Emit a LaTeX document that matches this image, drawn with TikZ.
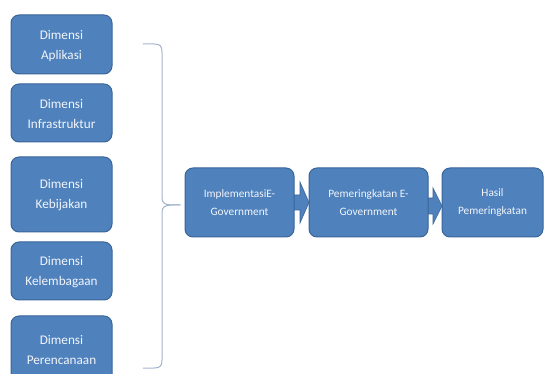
\documentclass[tikz,border=0pt]{standalone}
\usepackage{fontspec}
\setmainfont{Carlito}
\definecolor{boxfill}{HTML}{4F81BD}
\definecolor{boxline}{HTML}{3A6599}
\definecolor{bracecol}{HTML}{A3B3CC}
\definecolor{txt}{HTML}{F2F5FA}
\begin{document}
\begin{tikzpicture}[x=1pt,y=-1pt,
  blk/.style={draw=boxline, line width=1pt, fill=boxfill, rounded corners=8pt},
  lbl/.style={text=txt, align=center, font=\fontsize{13.2}{20}\selectfont, inner sep=0pt},
  mlbl/.style={text=txt, align=center, font=\fontsize{11.3}{18}\selectfont, inner sep=0pt},
  barrow/.style={fill=boxfill, draw=boxline, line width=0.6pt, line join=miter}]
\useasboundingbox (0,0) rectangle (544,374);
\clip (0,0) rectangle (544,374);
% left boxes
\draw[blk] (11,15) rectangle (112,74);
\node[lbl] (d1) at (61.5,46) {Dimensi\\Aplikasi};
\draw[blk] (11,84) rectangle (112,142);
\node[lbl] (d2) at (61.5,114) {Dimensi\\Infrastruktur};
\draw[blk] (11,157) rectangle (112,232);
\node[lbl] (d3) at (61.5,195) {Dimensi\\Kebijakan};
\draw[blk] (11,242) rectangle (112,300);
\node[lbl] (d4) at (61.5,272) {Dimensi\\Kelembagaan};
\draw[blk] (11,316) rectangle (112,384);
\node[lbl] (d5) at (61.5,350) {Dimensi\\Perencanaan};
% brace
\draw[bracecol, line width=1pt, line cap=round]
  (143,44) -- (154,44) .. controls (160,44) and (162,46) .. (162,52)
  -- (162,198) .. controls (162,203) and (165,205) .. (172,205) -- (180,205);
\draw[bracecol, line width=1pt, line cap=round]
  (180,205) -- (172,205) .. controls (165,205) and (162,207) .. (162,212)
  -- (162,360) .. controls (162,366) and (160,368) .. (154,368) -- (143,368);
% arrows
\draw[barrow] (293,195) -- (300,195) -- (300,182) -- (309,202.5) -- (300,223) -- (300,210) -- (293,210) -- cycle;
\draw[barrow] (427,198) -- (433,198) -- (433,188) -- (442,206) -- (433,224) -- (433,214) -- (427,214) -- cycle;
% middle boxes
\draw[blk] (185,168) rectangle (294,237);
\node[mlbl] (a) at (239.5,203) {ImplementasiE-\\Government};
\draw[blk] (309,168) rectangle (428,237);
\node[mlbl] (b) at (368.5,203) {Pemeringkatan E-\\Government};
\draw[blk] (442,168) rectangle (543,237);
\node[mlbl] (c) at (492.5,203) {Hasil\\Pemeringkatan};
\end{tikzpicture}
\end{document}
